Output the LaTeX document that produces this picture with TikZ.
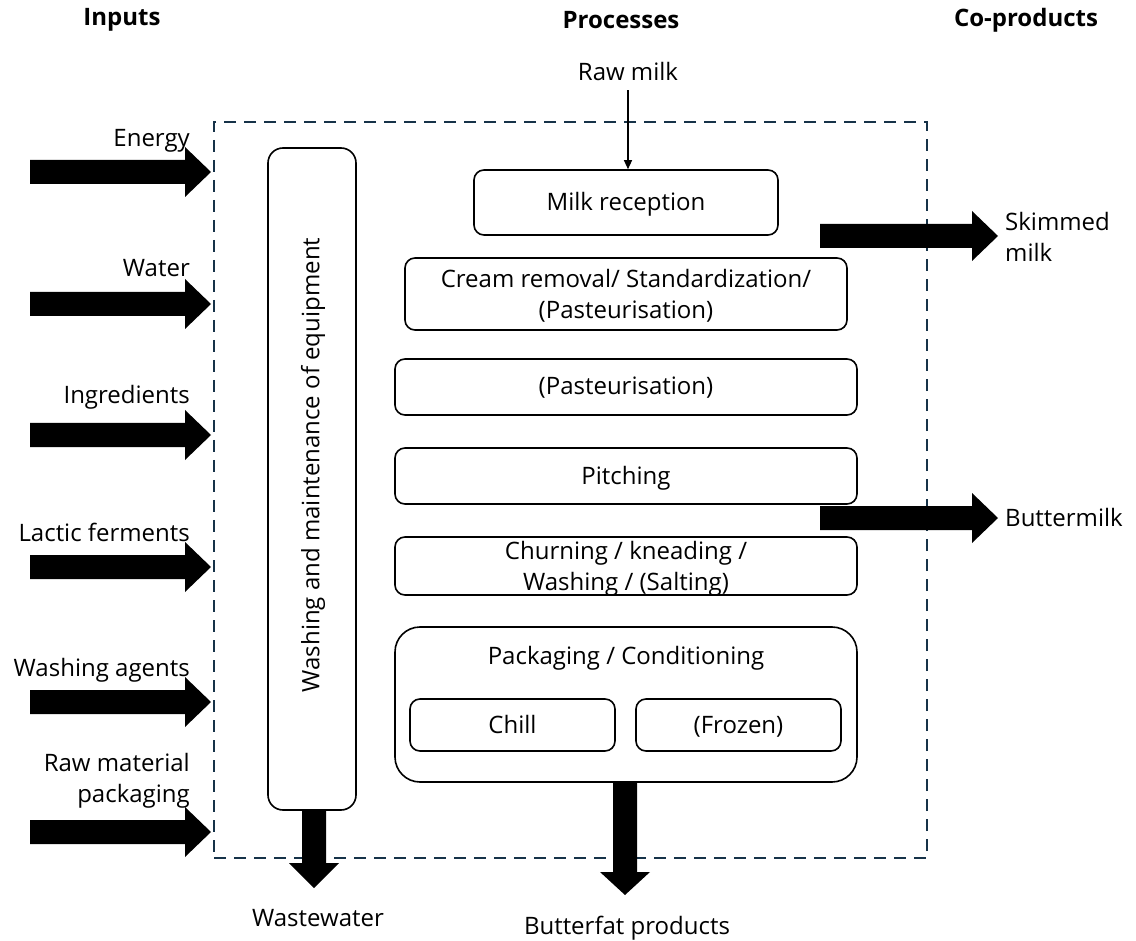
\documentclass[tikz,border=0pt]{standalone}
\usepackage{fontspec}
\setmainfont{Open Sans}
\usetikzlibrary{calc,arrows.meta}
\definecolor{dashnavy}{RGB}{22,50,72}
\newcommand{\fs}{\fontsize{24}{31}\selectfont}
\newcommand{\rblk}[3]{\fill (#1,#3-12) -- (#2-26,#3-12) -- (#2-26,#3-25) -- (#2,#3) -- (#2-26,#3+25) -- (#2-26,#3+12) -- (#1,#3+12) -- cycle;}
\newcommand{\dblk}[4]{\fill (#1-12,#2) -- (#1-12,#3) -- (#1-25,#3) -- (#1,#4) -- (#1+25,#3) -- (#1+12,#3) -- (#1+12,#2) -- cycle;}
\begin{document}
\begin{tikzpicture}[x=1pt,y=-1pt,
  box/.style={draw, line width=1.6pt, rounded corners=10pt, align=center, font=\fs, inner sep=0pt},
  one/.style={text height=19pt, text depth=3pt},
  lbl/.style={font=\fs, align=center, inner sep=0pt},
  hdr/.style={font=\fs\bfseries, inner sep=0pt}]
\useasboundingbox (0,0) rectangle (1136,941);

% system boundary
\node[draw=dashnavy, line width=2.5pt, dash pattern=on 12pt off 8pt, minimum width=713pt, minimum height=736pt, inner sep=0pt] (sys) at (570.5,490) {};

% headers
\node[hdr] (hin) at (122,20) {Inputs};
\node[hdr] (hpr) at (621,20) {Processes};
\node[hdr] (hco) at (1026,20) {Co-products};

% process boxes
\node[box, one, minimum width=304pt, minimum height=65pt] (mr) at (626,202.5) {Milk reception};
\node[box, minimum width=442pt, minimum height=72pt] (cr) at (626,294) {};
\node[lbl] (crt) at (626,296) {Cream removal/ Standardization/\\(Pasteurisation)};
\node[box, one, minimum width=462pt, minimum height=56pt] (pa) at (626,387) {(Pasteurisation)};
\node[box, one, minimum width=462pt, minimum height=56pt] (pi) at (626,476) {Pitching};
\node[box, minimum width=462pt, minimum height=58pt] (ch) at (626,566) {};
\node[lbl] (cht) at (626,569) {Churning / kneading /\\Washing / (Salting)};
\node[box, rounded corners=25pt, minimum width=462pt, minimum height=155pt] (pk) at (626,704.5) {};
\node[lbl, one] (pkt) at (626,656) {Packaging / Conditioning};
\node[box, one, minimum width=205pt, minimum height=52pt] (chill) at (512.5,725) {Chill};
\node[box, one, minimum width=205pt, minimum height=52pt] (frozen) at (738.5,725) {(Frozen)};

% washing column
\node[box, rounded corners=15pt, minimum width=88pt, minimum height=662pt] (wash) at (312,479) {};
\node[lbl, rotate=90] (washt) at (313,465) {Washing and maintenance of equipment};

% raw milk
\node[lbl, one] (raw) at (628,73) {Raw milk};
\draw[line width=1.3pt, -{Triangle[length=9pt,width=8pt]}, shorten <=6pt] (raw.south) -- (raw.south |- mr.north);

% inputs
\node[lbl, one, anchor=east] (en) at (190,139) {Energy};
\node[lbl, one, anchor=east] (wa) at (190,269) {Water};
\node[lbl, one, anchor=east] (ing) at (190,396) {Ingredients};
\node[lbl, one, anchor=east] (lf) at (190,533) {Lactic ferments};
\node[lbl, one, anchor=east] (wag) at (190,668) {Washing agents};
\node[lbl, anchor=east, align=right] (rmp) at (190,781) {Raw material\\packaging};
\rblk{30}{211}{172}
\rblk{30}{211}{304}
\rblk{30}{211}{435}
\rblk{30}{211}{567}
\rblk{30}{211}{702}
\rblk{30}{211}{832}

% co-products
\rblk{820}{998}{236}
\node[lbl, anchor=west, align=left] (sk) at (1005,237) {Skimmed\\milk};
\rblk{820}{998}{518}
\node[lbl, one, anchor=west] (bm) at (1005,518) {Buttermilk};

% outputs
\dblk{314}{810}{863}{888}
\node[lbl, one] (ww) at (318,918) {Wastewater};
\dblk{625}{782}{872}{895}
\node[lbl, one] (bf) at (627,926) {Butterfat products};
\end{tikzpicture}
\end{document}
